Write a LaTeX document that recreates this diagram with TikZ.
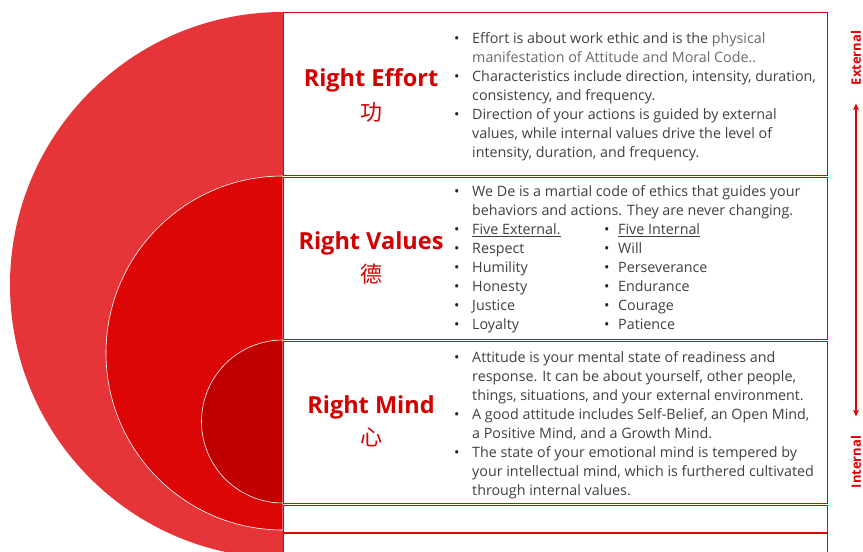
\documentclass[tikz,border=0pt]{standalone}
\usepackage{fontspec}
\setmainfont{Open Sans}
\newfontfamily\cjk{Noto Sans CJK SC}
\usepackage{xcolor}
\usepackage{array}
\usetikzlibrary{positioning}
\usetikzlibrary{arrows.meta}
\definecolor{outerred}{HTML}{E63538}
\definecolor{midred}{HTML}{DC0606}
\definecolor{innerred}{HTML}{C00000}
\definecolor{linered}{HTML}{E00000}
\definecolor{titlered}{HTML}{D40000}
\definecolor{bodygray}{HTML}{404040}
\definecolor{softgray}{HTML}{6A6A6A}
\tikzset{
box/.style={
  rectangle,
  draw=linered,
  fill=white,
  line width=0.8pt,
  minimum width=544pt,
  inner sep=0pt,
  anchor=north west
},
title/.style={text=titlered,inner sep=0pt,font=\bfseries\fontsize{23.5}{23.5}\selectfont},
hanzi/.style={text=titlered,inner sep=0pt,font=\cjk\fontsize{22}{22}\selectfont},
body/.style={anchor=north west,inner sep=0pt,text=bodygray,font=\fontsize{14.3}{19}\selectfont},
side/.style={text=linered,inner sep=0pt,rotate=90,font=\bfseries\fontsize{13}{13}\selectfont},
}
\newcommand{\bul}{\leavevmode\textcolor{black!85}{\textbullet}}

\begin{document}
\begin{tikzpicture}[x=1pt,y=-1pt]
\useasboundingbox (0,0) rectangle (863,552);
\clip (0,0) rectangle (863,552);
% the half discs
\fill[outerred] (283,12) arc[start angle=270,end angle=90,radius=273] -- cycle;
\filldraw[fill=midred,draw=white,line width=0.6pt] (283,176) arc[start angle=270,end angle=90,radius=177] -- cycle;
\filldraw[fill=innerred,draw=white,line width=0.6pt] (283,340) arc[start angle=270,end angle=90,radius=81.5] -- cycle;
% the boxes
\foreach \y/\h/\name in {12/163/effortBox,177/162/valuesBox,341/162/mindBox,505/27/blankBox,533/40/lowerBox}
{
  \node[box,minimum height=\h pt] (\name) at (283,\y) {};
}
% the titles
\node[title] (effortTitle) at (371,80) {Right Effort};
\node[hanzi,below=10pt of effortTitle] (effortHan) {功};
\node[title] (valuesTitle) at (371,243) {Right Values};
\node[hanzi,below=9pt of valuesTitle] (valuesHan) {德};
\node[title] (mindTitle) at (371,407) {Right Mind};
\node[hanzi,below=9pt of mindTitle] (mindHan) {心};
% the texts
\node[body] (effortText) at (454,30) {%
\begin{tabular}{@{}p{18pt}@{}l@{}}
\bul & Effort is about work ethic and is the {\color{softgray}physical}\\
 & {\color{softgray}manifestation of Attitude and Moral Code..}\\
\bul & Characteristics include direction, intensity, duration,\\
 & consistency, and frequency.\\
\bul & Direction of your actions is guided by external\\
 & values, while internal values drive the level of\\
 & intensity, duration, and frequency.
\end{tabular}};
\node[body] (valuesText) at (454,183) {%
\begin{tabular}{@{}p{18pt}@{}p{132pt}@{}p{14pt}@{}l@{}}
\bul & \multicolumn{3}{@{}l@{}}{We De is a martial code of ethics that guides your}\\
 & \multicolumn{3}{@{}l@{}}{behaviors and actions. They are never changing.}\\
\bul & \underline{Five External.} & \bul & \underline{Five Internal}\\
\bul & Respect & \bul & Will\\
\bul & Humility & \bul & Perseverance\\
\bul & Honesty & \bul & Endurance\\
\bul & Justice & \bul & Courage\\
\bul & Loyalty & \bul & Patience
\end{tabular}};
\node[body] (mindText) at (454,349) {%
\begin{tabular}{@{}p{18pt}@{}l@{}}
\bul & Attitude is your mental state of readiness and\\
 & response. It can be about yourself, other people,\\
 & things, situations, and your external environment.\\
\bul & A good attitude includes Self-Belief, an Open Mind,\\
 & a Positive Mind, and a Growth Mind.\\
\bul & The state of your emotional mind is tempered by\\
 & your intellectual mind, which is furthered cultivated\\
 & through internal values.
\end{tabular}};
% the arrows
\node[side] (external) at (856,58) {External};
\node[side] (internal) at (856,462) {Internal};
\draw[linered,line width=1.5pt,{Stealth[length=7pt,width=6pt]}-{Stealth[length=7pt,width=6pt]},
  shorten <=18pt,shorten >=19pt] (external.west) -- (internal.east);
\end{tikzpicture}
\end{document}
